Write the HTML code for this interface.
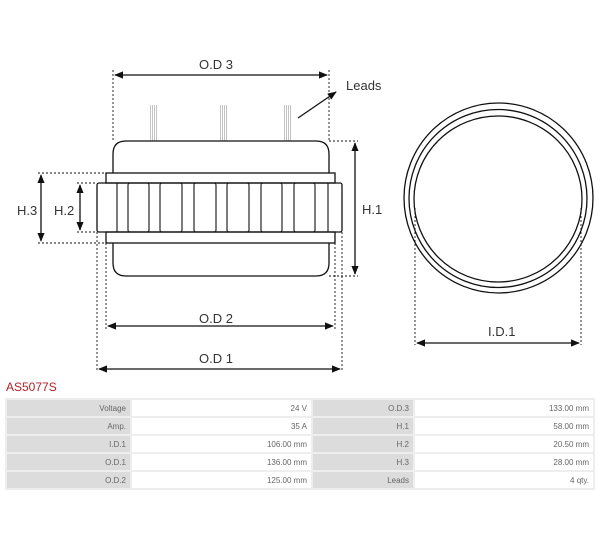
<!DOCTYPE html>
<html><head><meta charset="utf-8"><style>
body{margin:0;width:600px;height:544px;background:#fff;overflow:hidden;font-family:"Liberation Sans",sans-serif;}
svg{position:absolute;left:0;top:0}
.t{position:absolute;left:6px;top:380px;color:#b3202a;font-size:12px}
table{position:absolute;left:5px;top:398px;width:590px;border-collapse:separate;border-spacing:2px;background:#eee;font-size:8px;color:#666}
td{height:16px;padding:0 4px;text-align:right}
td.l{background:#dcdcdc}
td.v{background:#fff}
</style></head><body>
<svg width="600" height="380" viewBox="0 0 600 380" fill="none" stroke="#111" stroke-width="1.3">
<defs><marker id="a" viewBox="0 0 10 10" refX="9" refY="5" markerWidth="7" markerHeight="7" orient="auto-start-reverse"><path d="M0,1L10,5L0,9z" fill="#111" stroke="none"/></marker></defs>
<g stroke-dasharray="2,2" stroke-width="0.9">
<line x1="113" y1="70" x2="113" y2="141"/><line x1="329" y1="70" x2="329" y2="141"/>
<line x1="329" y1="141" x2="358" y2="141"/><line x1="329" y1="276" x2="358" y2="276"/>
<line x1="38" y1="173" x2="106" y2="173"/><line x1="38" y1="243" x2="106" y2="243"/>
<line x1="77" y1="183" x2="97" y2="183"/><line x1="77" y1="232" x2="97" y2="232"/>
<line x1="106" y1="243" x2="106" y2="329"/><line x1="335" y1="243" x2="335" y2="329"/>
<line x1="97" y1="232" x2="97" y2="372"/><line x1="342" y1="232" x2="342" y2="372"/>
<line x1="415" y1="208" x2="415" y2="345"/><line x1="581" y1="208" x2="581" y2="345"/>
</g>
<line x1="115" y1="75" x2="327" y2="75" marker-start="url(#a)" marker-end="url(#a)"/>
<line x1="355" y1="143" x2="355" y2="274" marker-start="url(#a)" marker-end="url(#a)"/>
<line x1="41" y1="175" x2="41" y2="241" marker-start="url(#a)" marker-end="url(#a)"/>
<line x1="80" y1="185" x2="80" y2="230" marker-start="url(#a)" marker-end="url(#a)"/>
<line x1="108" y1="326" x2="333" y2="326" marker-start="url(#a)" marker-end="url(#a)"/>
<line x1="99" y1="369" x2="340" y2="369" marker-start="url(#a)" marker-end="url(#a)"/>
<line x1="417" y1="343" x2="579" y2="343" marker-start="url(#a)" marker-end="url(#a)"/>
<line x1="298" y1="118" x2="336" y2="92" marker-end="url(#a)"/>
<g stroke="#888" stroke-width="0.5">
<path d="M150.5,105V141M152.5,105V141M154.5,105V141M156.5,105V141"/>
<path d="M220.5,105V141M222.5,105V141M224.5,105V141M226.5,105V141"/>
<path d="M284.5,105V141M286.5,105V141M288.5,105V141M290.5,105V141"/>
</g>
<path d="M113,173V154Q113,141 126,141H316Q329,141 329,154V173"/>
<path d="M113,243V263Q113,276 126,276H316Q329,276 329,263V243"/>
<rect x="106" y="173" width="229" height="10"/>
<rect x="106" y="232" width="229" height="11"/>
<rect x="97" y="183" width="245" height="49" rx="2"/>
<g stroke-width="1.1">
<line x1="117" y1="183" x2="117" y2="232"/>
<rect x="128" y="183" width="21" height="49" rx="2"/>
<rect x="160" y="183" width="22" height="49" rx="2"/>
<rect x="194" y="183" width="22" height="49" rx="2"/>
<rect x="227" y="183" width="22" height="49" rx="2"/>
<rect x="261" y="183" width="21" height="49" rx="2"/>
<rect x="294" y="183" width="21" height="49" rx="2"/>
<line x1="328" y1="183" x2="328" y2="232"/>
</g>
<ellipse cx="498.5" cy="198" rx="94.5" ry="95"/>
<ellipse cx="498" cy="198.5" rx="89" ry="89"/>
<ellipse cx="498" cy="199" rx="84" ry="83"/>
<g fill="#333" stroke="none" font-size="13" font-family="Liberation Sans,sans-serif">
<text x="199" y="69">O.D 3</text>
<text x="346" y="90">Leads</text>
<text x="362" y="214">H.1</text>
<text x="17" y="215">H.3</text>
<text x="54" y="215">H.2</text>
<text x="199" y="323">O.D 2</text>
<text x="199" y="363">O.D 1</text>
<text x="488" y="336">I.D.1</text>
</g>
</svg>
<div class="t">AS5077S</div>
<table>
<tr><td class="l" style="width:115px">Voltage</td><td class="v" style="width:171px">24 V</td><td class="l" style="width:92px">O.D.3</td><td class="v">133.00 mm</td></tr>
<tr><td class="l">Amp.</td><td class="v">35 A</td><td class="l">H.1</td><td class="v">58.00 mm</td></tr>
<tr><td class="l">I.D.1</td><td class="v">106.00 mm</td><td class="l">H.2</td><td class="v">20.50 mm</td></tr>
<tr><td class="l">O.D.1</td><td class="v">136.00 mm</td><td class="l">H.3</td><td class="v">28.00 mm</td></tr>
<tr><td class="l">O.D.2</td><td class="v">125.00 mm</td><td class="l">Leads</td><td class="v">4 qty.</td></tr>
</table>
</body></html>
